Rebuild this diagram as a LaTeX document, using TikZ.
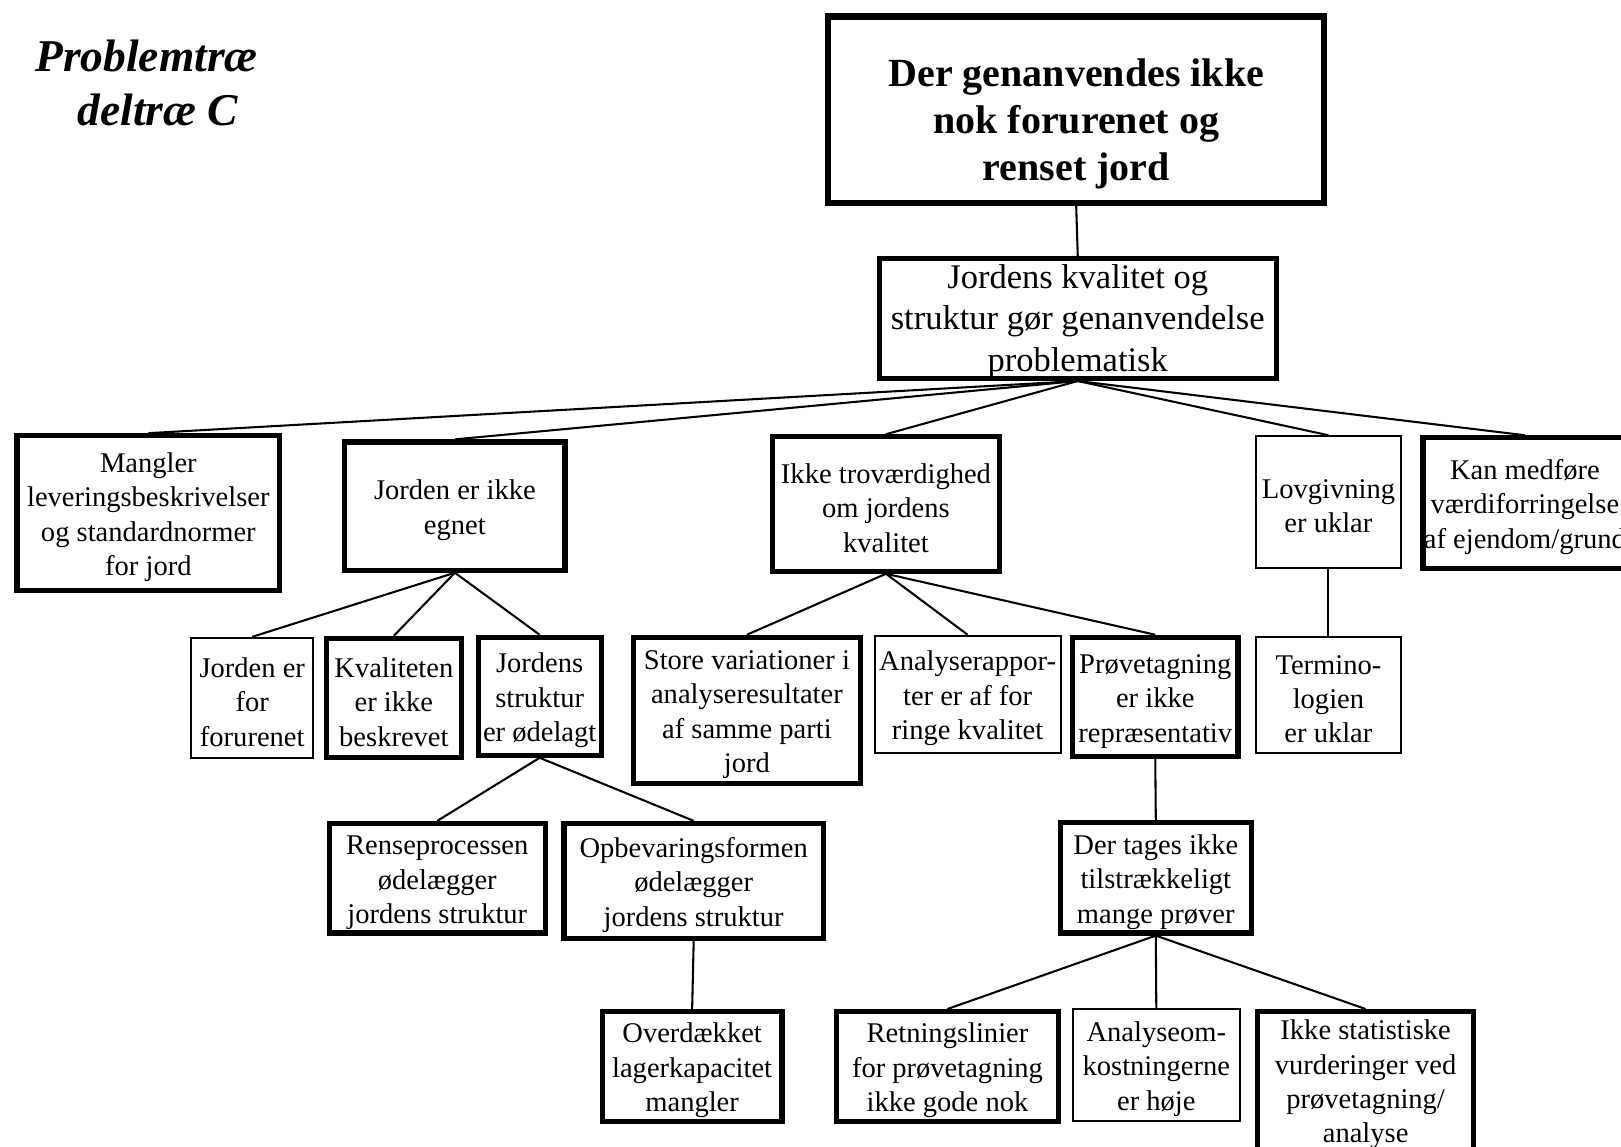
\documentclass[tikz,border=0pt]{standalone}
\usepackage{fontspec}
\setmainfont{Liberation Serif}
% raises the top of the first text line so the lines sit a little lower in their box
\newcommand\firstline{\rule{0pt}{27pt}}
\begin{document}
\begin{tikzpicture}[x=1pt,y=-1pt,
  every node/.style={inner sep=0pt, align=center},
  body/.style={font=\fontsize{27.6pt}{33.3pt}\selectfont},
  heavy/.style={draw, line width=5pt, body},
  light/.style={draw, line width=2pt, body},
  link/.style={line width=2pt},
  sz/.style 2 args={minimum width=#1pt, minimum height=#2pt},
]
\useasboundingbox (0,0) rectangle (1568,1109);

% title
\node[anchor=north west, align=left,
      font=\bfseries\itshape\fontsize{44pt}{53pt}\selectfont] (title) at (34,38)
  {Problemtræ\\\hspace*{41pt}deltræ C};

% top problem
\node[draw, line width=6pt, sz={480}{180}] (T) at (1041,106) {};
\node[font=\bfseries\fontsize{38.7pt}{45.5pt}\selectfont] (Ttext) at (1041,120)
  {Der genanvendes ikke\\nok forurenet og\\renset jord};

\node[heavy, sz={384}{113}, font=\fontsize{33.4pt}{40pt}\selectfont] (J) at (1042.5,308)
  {\rule{0pt}{29pt}Jordens kvalitet og\\struktur gør genanvendelse\\problematisk};

% second level
\node[heavy, sz={254}{150}] (A) at (143.5,496.5) {\firstline Mangler\\leveringsbeskrivelser\\og standardnormer\\for jord};
\node[heavy, sz={213}{124}] (B) at (440,489.5) {\firstline Jorden er ikke\\egnet};
\node[heavy, sz={219}{130}] (C) at (857,487.5) {\firstline Ikke troværdighed\\om jordens\\kvalitet};
\node[light, sz={140}{127}] (D) at (1285,485.5) {\firstline Lovgivning\\er uklar};
\node[heavy, sz={197}{126}] (E) at (1475,486.5) {\firstline Kan medføre\\værdiforringelse\\af ejendom/grund};

% third level
\node[light, sz={118}{116}] (B1) at (244,675) {\firstline Jorden er\\for\\forurenet};
\node[heavy, sz={131}{115}] (B2) at (381,675) {\firstline Kvaliteten\\er ikke\\beskrevet};
\node[heavy, sz={119}{114}] (B3) at (522,673.5) {\firstline Jordens\\struktur\\er ødelagt};
\node[heavy, sz={220}{141}] (C1) at (722.5,687) {\firstline Store variationer i\\analyseresultater\\af samme parti\\jord};
\node[light, sz={180}{113}] (C2) at (936,671.5) {\firstline Analyserappor-\\ter er af for\\ringe kvalitet};
\node[heavy, sz={160}{115}] (C3) at (1117.5,674) {\firstline Prøvetagning\\er ikke\\repræsentativ};
\node[light, sz={140}{112}] (D1) at (1285,672) {\firstline Termino-\\logien\\er uklar};

% fourth level
\node[heavy, sz={209}{106}] (R) at (423,849.5) {\firstline Renseprocessen\\ødelægger\\jordens struktur};
\node[heavy, sz={251}{111}] (O) at (671,852) {\firstline Opbevaringsformen\\ødelægger\\jordens struktur};
\node[heavy, sz={185}{107}] (P) at (1118,849) {\firstline Der tages ikke\\tilstrækkeligt\\mange prøver};

% fifth level
\node[heavy, sz={174}{106}] (OV) at (669.5,1031.5) {\firstline Overdækket\\lagerkapacitet\\mangler};
\node[heavy, sz={214}{106}] (P1) at (916.5,1031.5) {\firstline Retningslinier\\for prøvetagning\\ikke gode nok};
\node[light, sz={161}{108}] (P2) at (1118.5,1030) {\firstline Analyseom-\\kostningerne\\er høje};
\node[heavy, sz={209}{133}] (P3) at (1321,1045) {\firstline Ikke statistiske\\vurderinger ved\\prøvetagning/\\analyse};

% connectors
\draw[link] (T.south) -- (J.north);
\foreach \c in {A,B,C,D,E} \draw[link] (J.south) -- (\c.north);
\foreach \c in {B1,B2,B3} \draw[link] (B.south) -- (\c.north);
\foreach \c in {C1,C2,C3} \draw[link] (C.south) -- (\c.north);
\draw[link] (D.south) -- (D1.north);
\foreach \c in {R,O} \draw[link] (B3.south) -- (\c.north);
\draw[link] (C3.south) -- (P.north);
\draw[link] (O.south) -- (OV.north);
\foreach \c in {P1,P2,P3} \draw[link] (P.south) -- (\c.north);
\end{tikzpicture}
\end{document}
